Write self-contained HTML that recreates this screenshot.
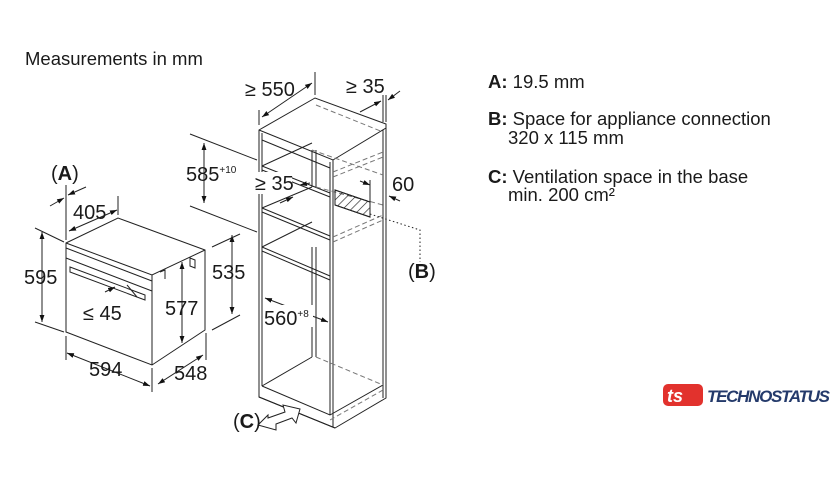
<!DOCTYPE html>
<html><head><meta charset="utf-8"><style>
html,body{margin:0;padding:0;background:#fff}
svg{display:block}
text{font-family:"Liberation Sans",Arial,sans-serif;fill:#1a1a1a}
</style></head><body>
<svg width="840" height="490" viewBox="0 0 840 490" xmlns="http://www.w3.org/2000/svg">
<defs>
<marker id="a" viewBox="0 0 10 10" refX="10" refY="5" markerWidth="7" markerHeight="7" orient="auto-start-reverse"><path d="M0,1.5 L10,5 L0,8.5 z" fill="#111"/></marker>
<pattern id="h" width="6" height="6" patternUnits="userSpaceOnUse" patternTransform="rotate(45)"><line x1="0" y1="0" x2="0" y2="6" stroke="#222" stroke-width="1.3"/></pattern>
</defs>
<g stroke="#222" stroke-width="1" fill="none">
<!-- oven -->
<path d="M66,243 L118,218 L205,250 L205,330 L152,365 L66,332 Z" fill="#fff"/>
<path d="M66,243 L152,275 L205,250"/>
<path d="M152,275 L152,365"/>
<path d="M66,248 L152,281"/>
<path d="M66,258 L152,291 L152,293"/>
<path d="M70,267 L145,295 L145,300 L70,272 Z"/>
<path d="M190,258 L195,260 L195,268 L190,266 Z"/>
<path d="M160,272 L165,270 L165,279"/>
<!-- oven dims -->
<line x1="42" y1="232" x2="42" y2="322" marker-start="url(#a)" marker-end="url(#a)"/>
<line x1="35" y1="228" x2="64" y2="242"/><line x1="35" y1="322" x2="64" y2="332"/>
<line x1="67" y1="353" x2="150" y2="386" marker-start="url(#a)" marker-end="url(#a)"/>
<line x1="66" y1="336" x2="66" y2="360"/><line x1="152" y1="368" x2="152" y2="392"/>
<line x1="158" y1="384" x2="203" y2="355" marker-start="url(#a)" marker-end="url(#a)"/>
<line x1="206" y1="333" x2="206" y2="360"/>
<line x1="232" y1="235" x2="232" y2="314" marker-start="url(#a)" marker-end="url(#a)"/>
<line x1="212" y1="247" x2="240" y2="234"/><line x1="212" y1="330" x2="240" y2="315"/>
<line x1="182" y1="262" x2="182" y2="343" marker-start="url(#a)" marker-end="url(#a)"/>
<line x1="69" y1="231" x2="117" y2="210" marker-start="url(#a)" marker-end="url(#a)"/>
<line x1="118" y1="196" x2="118" y2="215"/>
<line x1="66" y1="185" x2="66" y2="240"/>
<line x1="50" y1="206" x2="64" y2="198" marker-end="url(#a)"/>
<line x1="86" y1="187" x2="68" y2="195" marker-end="url(#a)"/>
<line x1="105" y1="292" x2="115" y2="287" marker-end="url(#a)"/>
<line x1="137" y1="297" x2="127" y2="285"/>
<!-- 585 guides -->
<line x1="190" y1="134" x2="257" y2="160"/><line x1="190" y1="206" x2="257" y2="232"/>
<line x1="204" y1="143" x2="204" y2="203" marker-start="url(#a)" marker-end="url(#a)"/>
<!-- cabinet -->
<path d="M259,130 L315,98 L386,124 L386,398 L335,428 L259,397 Z" fill="#fff"/>
<path d="M259,130 L333,160 L386,128"/>
<path d="M262,133 L262,386 M330,162 L330,415 M333,160 L333,427 M383,130 L383,398"/>
<path d="M259,397 L259,386 M262,386 L330,415 L383,385"/>
<path d="M262,140 L330,168"/>
<path d="M262,166 L330,193 M262,170 L330,197 M262,166 L312,143"/>
<path d="M262,208 L330,236 M262,212 L330,240 M262,208 L312,187"/>
<path d="M312,187 L312,150 M316,187 L316,150"/>
<path d="M312,357 L312,247 M316,357 L316,247 M262,386 L312,357"/>
<path d="M262,247 L330,276 M262,251 L330,280 M262,247 L312,222"/>
<path d="M259,397 L335,428"/>
<g stroke-dasharray="5,3" stroke="#777">
<path d="M316,105 L383,132 M312,150 L383,175 M333,172 L383,152 M333,177 L383,157"/>
<path d="M333,237 L383,215 M333,242 L383,220 M316,187 L383,205"/>
<path d="M316,357 L383,385 M330,420 L383,390"/>
</g>
<polygon points="335,190 370,202 370,217 335,205" fill="url(#h)"/>
<polygon points="335,190 370,202 370,217 335,205"/>
<!-- cabinet dims -->
<line x1="259" y1="110" x2="259" y2="125"/><line x1="315" y1="72" x2="315" y2="95"/>
<line x1="262" y1="117" x2="312" y2="83" marker-start="url(#a)" marker-end="url(#a)"/>
<line x1="383" y1="95" x2="383" y2="122"/><line x1="386" y1="95" x2="386" y2="122"/>
<line x1="360" y1="112" x2="381" y2="101" marker-end="url(#a)"/>
<line x1="400" y1="91" x2="388" y2="100" marker-end="url(#a)"/>
<line x1="280" y1="203" x2="293" y2="197" marker-end="url(#a)"/>
<line x1="300" y1="185" x2="310" y2="183" marker-start="url(#a)"/>
<line x1="360" y1="181" x2="370" y2="185" marker-end="url(#a)"/>
<line x1="370" y1="180" x2="370" y2="205"/>
<line x1="400" y1="201" x2="389" y2="196" marker-end="url(#a)"/>
<line x1="265" y1="298" x2="328" y2="322" marker-start="url(#a)" marker-end="url(#a)"/>
<path d="M370,214 L420,230 L420,262" stroke-dasharray="1.5,2.5"/>
<path d="M258,425 L268,415 L268,418 L285,412 L283,405 L300,409 L296,423 L292,418 L276,424 L276,430 Z" fill="#fff"/>
</g>
<g fill="#fff"><rect x="263" y="305" width="50" height="22"/><rect x="252" y="172" width="40" height="22"/></g>
<g font-size="20">
<text x="51" y="180">(<tspan font-weight="bold">A</tspan>)</text>
<text x="73" y="219">405</text>
<text x="24" y="284">595</text>
<text x="83" y="320">≤ 45</text>
<text x="165" y="315">577</text>
<text x="212" y="279">535</text>
<text x="89" y="376">594</text>
<text x="174" y="380">548</text>
<text x="186" y="181">585<tspan font-size="10" dy="-8">+10</tspan></text>
<text x="245" y="96">≥ 550</text>
<text x="346" y="93">≥ 35</text>
<text x="255" y="190">≥ 35</text>
<text x="392" y="191">60</text>
<text x="264" y="325">560<tspan font-size="10" dy="-8">+8</tspan></text>
<text x="408" y="278">(<tspan font-weight="bold">B</tspan>)</text>
<text x="233" y="428">(<tspan font-weight="bold">C</tspan>)</text>
</g>
<g font-size="18.5">
<text x="25" y="65">Measurements in mm</text>
<text x="488" y="88"><tspan font-weight="bold">A:</tspan> 19.5 mm</text>
<text x="488" y="125"><tspan font-weight="bold">B:</tspan> Space for appliance connection</text>
<text x="508" y="144">320 x 115 mm</text>
<text x="488" y="183"><tspan font-weight="bold">C:</tspan> Ventilation space in the base</text>
<text x="508" y="201">min. 200 cm²</text>
</g>
<rect x="663" y="384" width="40" height="22" rx="5" fill="#e2322d"/>
<text x="667" y="402" font-size="18" font-weight="bold" font-style="italic" style="fill:#fff">ts</text>
<text x="707" y="402" font-size="17" font-weight="bold" font-style="italic" style="fill:#243a6b" textLength="123">TECHNOSTATUS</text>
</svg>
</body></html>
